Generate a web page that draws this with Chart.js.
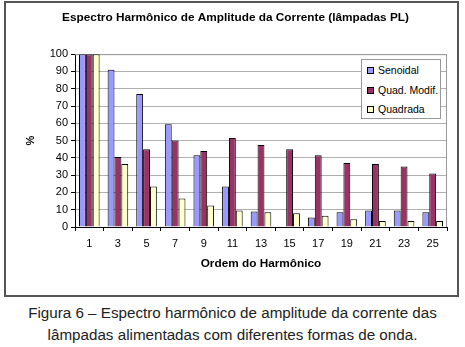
<!DOCTYPE html>
<html>
<head>
<meta charset="utf-8">
<script src="https://cdn.jsdelivr.net/npm/chart.js@4/dist/chart.umd.min.js"></script>
<style>
  html, body { margin: 0; padding: 0; background: #fff; }
  #wrap { position: relative; width: 465px; height: 347px; overflow: hidden; font-family: "Liberation Sans", Arial, sans-serif; }
  #cv { position: absolute; left: 0; top: 0; }
  #frame { position: absolute; left: 4px; top: 1px; width: 451px; height: 292px; border: 2px solid #555; pointer-events: none; }
  #legend { position: absolute; left: 361px; top: 59px; width: 78px; height: 58px; border: 1px solid #999; background: #fff; font-size: 10.5px; color: #000; }
  #legend .it { position: absolute; left: 5px; height: 14px; line-height: 14px; white-space: nowrap; }
  #legend .sw { display: inline-block; width: 5px; height: 5px; border: 1px solid #000; margin-right: 4px; vertical-align: 0px; }
  #caption { position: absolute; left: 0; top: 302px; width: 465px; text-align: center; font-size: 15.2px; line-height: 22px; color: #222; }
</style>
</head>
<body>
<div id="wrap">
  <canvas id="cv" width="465" height="300"></canvas>
  <div id="frame"></div>
  <div id="legend"></div>
  <div id="caption">Figura 6 – Espectro harmônico de amplitude da corrente das<br>lâmpadas alimentadas com diferentes formas de onda.</div>
</div>
<script>
const categories = ['1','3','5','7','9','11','13','15','17','19','21','23','25'];
const senoidal   = [100, 91, 77, 59.5, 41.5, 23.5, 9, 0, 5.5, 8.5, 9.5, 9.5, 8.5];
const quadModif  = [100, 40.5, 45, 50, 44, 51.5, 47.5, 45, 41.5, 37, 36.5, 35, 31];
const quadrada   = [100, 36.5, 23.5, 16.5, 12.5, 9.5, 8.5, 8, 6.5, 4.5, 3.5, 3.5, 3.5];
const seriesNames = ['Senoidal', 'Quad. Modif.', 'Quadrada'];
const seriesColors = ['#9999FF', '#993366', '#FFFFCC'];
const yTicks = [0,10,20,30,40,50,60,70,80,90,100];

const FONT = '"Liberation Sans", Arial, sans-serif';

const frameBorder = {
  id: 'plotBorder',
  beforeDatasetsDraw(chart) {
    const a = chart.chartArea, c = chart.ctx;
    c.save();
    c.strokeStyle = '#999';
    c.lineWidth = 1;
    c.beginPath();
    c.moveTo(a.left, a.top + 0.5);
    c.lineTo(a.right - 0.5, a.top + 0.5);
    c.lineTo(a.right - 0.5, a.bottom);
    c.stroke();
    c.restore();
  }
};

function build() {
  const series = [senoidal, quadModif, quadrada];
  new Chart(document.getElementById('cv'), {
    type: 'bar',
    data: {
      labels: categories,
      datasets: series.map((d, i) => ({
        label: seriesNames[i],
        data: d,
        backgroundColor: seriesColors[i],
        borderColor: '#000',
        borderWidth: 1,
        categoryPercentage: 0.72,
        barPercentage: 1.0
      }))
    },
    options: {
      responsive: false,
      animation: false,
      devicePixelRatio: 1,
      layout: { padding: { left: 24, right: 18, top: 0, bottom: 23 } },
      plugins: {
        legend: { display: false },
        tooltip: { enabled: false },
        title: {
          display: true,
          text: 'Espectro Harmônico de Amplitude da Corrente (lâmpadas PL)',
          color: '#000',
          font: { family: FONT, size: 11.8, weight: 'bold' },
          padding: { top: 11, bottom: 29 }
        }
      },
      scales: {
        x: {
          afterFit: s => { s.height = 50; },
          grid: { display: true, drawOnChartArea: false, drawTicks: true, tickLength: 4, color: '#000', offset: true },
          border: { display: true, color: '#000', width: 1 },
          ticks: { color: '#000', font: { family: FONT, size: 11 }, padding: 6, maxRotation: 0 },
          title: { display: true, text: 'Ordem do Harmônico', color: '#000', font: { family: FONT, size: 11.8, weight: 'bold' }, padding: { top: 4, bottom: 6 } }
        },
        y: {
          min: 0, max: 100,
          afterFit: s => { s.width = 51; },
          afterBuildTicks: s => { s.ticks = yTicks.map(v => ({ value: v })); },
          grid: { color: '#b0b0b0', tickLength: 4, tickColor: '#000', drawTicks: true },
          border: { display: true, color: '#000', width: 1 },
          ticks: { color: '#000', font: { family: FONT, size: 11 }, padding: 3 },
          title: { display: true, text: '%', color: '#000', font: { family: FONT, size: 11, weight: 'bold' }, padding: { top: 0, bottom: 0 } }
        }
      }
    },
    plugins: [frameBorder]
  });
}

const lg = document.getElementById('legend');
seriesNames.forEach((n, i) => {
  const it = document.createElement('div');
  it.className = 'it';
  it.style.top = (3 + i * 19.5) + 'px';
  const sw = document.createElement('span');
  sw.className = 'sw';
  sw.style.background = seriesColors[i];
  it.appendChild(sw);
  it.appendChild(document.createTextNode(n));
  lg.appendChild(it);
});

Promise.all([
  document.fonts.load('11px "Liberation Sans"'),
  document.fonts.load('bold 12px "Liberation Sans"')
]).catch(() => {}).then(build);
</script>
</body>
</html>
